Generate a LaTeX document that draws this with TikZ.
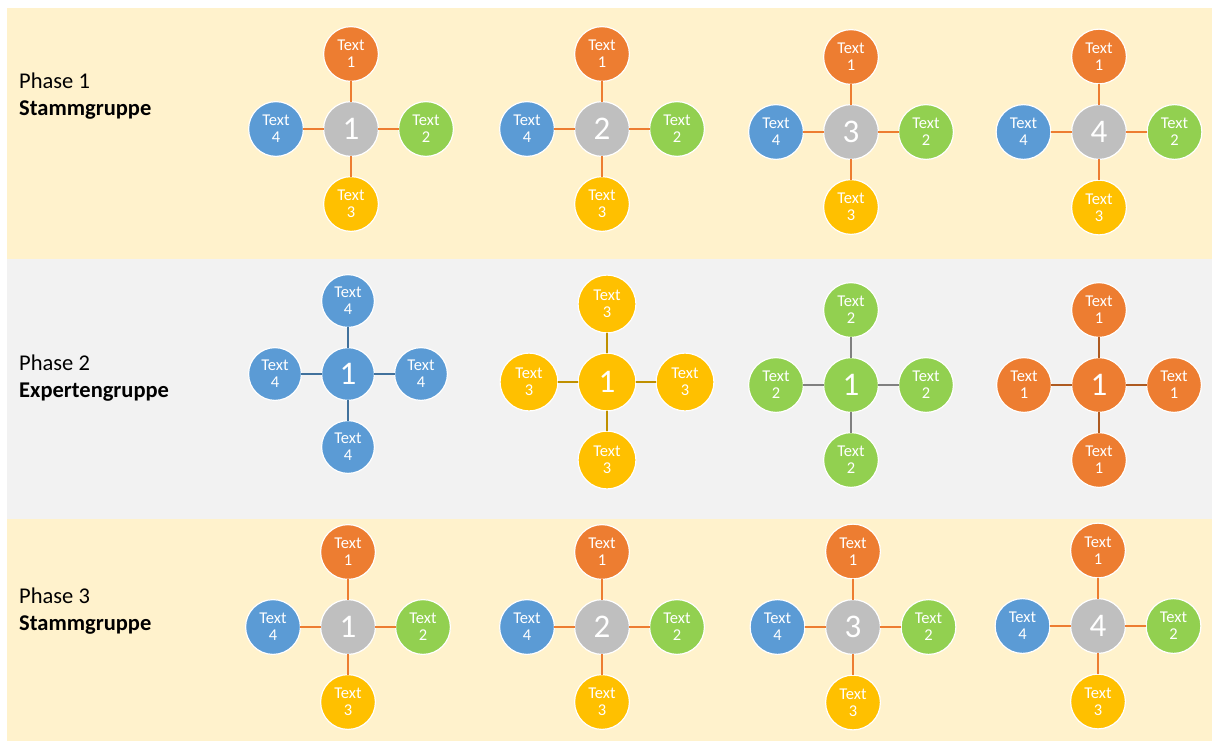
\documentclass[tikz,border=0pt]{standalone}
\usepackage{fontspec}
\setmainfont{Carlito}
\usetikzlibrary{positioning}

\definecolor{hellgelb}{HTML}{FFF2CC}
\definecolor{hellgrau}{HTML}{F2F2F2}
\definecolor{orange}{HTML}{ED7D31}
\definecolor{gruen}{HTML}{92D050}
\definecolor{gelb}{HTML}{FFC000}
\definecolor{blau}{HTML}{5B9BD5}
\definecolor{grau}{HTML}{BFBFBF}
\definecolor{blaudunkel}{HTML}{41719C}
\definecolor{gelbdunkel}{HTML}{BF9000}
\definecolor{graudunkel}{HTML}{808080}
\definecolor{orangedunkel}{HTML}{AE5A21}

\begin{document}
\begin{tikzpicture}[
			x=1pt, y=-1pt,
			kreis/.style={
				circle,
				draw=white,
				line width=1.2pt,
				minimum size=54.8pt,
				inner sep=0pt,
				outer sep=0pt,
				text=white,
				align=center,
				font=\fontsize{16.5}{17}\selectfont
			},
			mitte/.style={kreis, font=\fontsize{33}{33}\selectfont},
			linie/.style={line width=2pt},
			phase/.style={anchor=base west, inner sep=0pt, align=left,
				font=\fontsize{22.5}{27}\selectfont},
			on grid
			]
			
			\useasboundingbox (0,0) rectangle (1212,742);
			\fill[hellgelb] (7,8) rectangle (1212,259);
			\fill[hellgrau] (7,259) rectangle (1212,519);
			\fill[hellgelb] (7,519) rectangle (1212,741);
			
			\node[phase] (p1) at (19,115) {Phase 1\\\textbf{Stammgruppe}};
			\node[phase] (p2) at (19,397) {Phase 2\\\textbf{Expertengruppe}};
			\node[phase] (p3) at (19,630) {Phase 3\\\textbf{Stammgruppe}};
			
			% Stammgruppen (Phase 1 und 3)
			\foreach \p/\nr/\x/\y/\d in {a/1/351/129/75, a/2/602/129/75, a/3/851/132/75, a/4/1099/132/75.5,
				c/1/348/627/75, c/2/602/627/75, c/3/853/627/75.5, c/4/1098/626/75.5} {
				\node[mitte, fill=grau] (\p\nr) at (\x,\y) {\nr};
				\node[kreis, fill=orange, above=\d pt of \p\nr] (\p\nr-o) {Text\\1};
				\node[kreis, fill=gruen, right=\d pt of \p\nr] (\p\nr-r) {Text\\2};
				\node[kreis, fill=gelb, below=\d pt of \p\nr] (\p\nr-u) {Text\\3};
				\node[kreis, fill=blau, left=\d pt of \p\nr] (\p\nr-l) {Text\\4};
				\foreach \s in {o,r,u,l}
					\draw[linie, orange] (\p\nr) -- (\p\nr-\s);
			}
			
			% Expertengruppen (Phase 2)
			\foreach \nr/\x/\y/\d/\dm/\fb/\lf/\t in {1/348/374/73/52.8/blau/blaudunkel/4,
				2/607/382/78/57.8/gelb/gelbdunkel/3, 3/851/385/75/54.8/gruen/graudunkel/2,
				4/1099/385/75/54.8/orange/orangedunkel/1} {
				\node[mitte, fill=\fb, minimum size=\dm pt] (b\nr) at (\x,\y) {1};
				\node[kreis, fill=\fb, minimum size=\dm pt, above=\d pt of b\nr] (b\nr-o) {Text\\\t};
				\node[kreis, fill=\fb, minimum size=\dm pt, right=\d pt of b\nr] (b\nr-r) {Text\\\t};
				\node[kreis, fill=\fb, minimum size=\dm pt, below=\d pt of b\nr] (b\nr-u) {Text\\\t};
				\node[kreis, fill=\fb, minimum size=\dm pt, left=\d pt of b\nr] (b\nr-l) {Text\\\t};
				\foreach \s in {o,r,u,l}
					\draw[linie, \lf] (b\nr) -- (b\nr-\s);
			}
			
		\end{tikzpicture}
\end{document}
